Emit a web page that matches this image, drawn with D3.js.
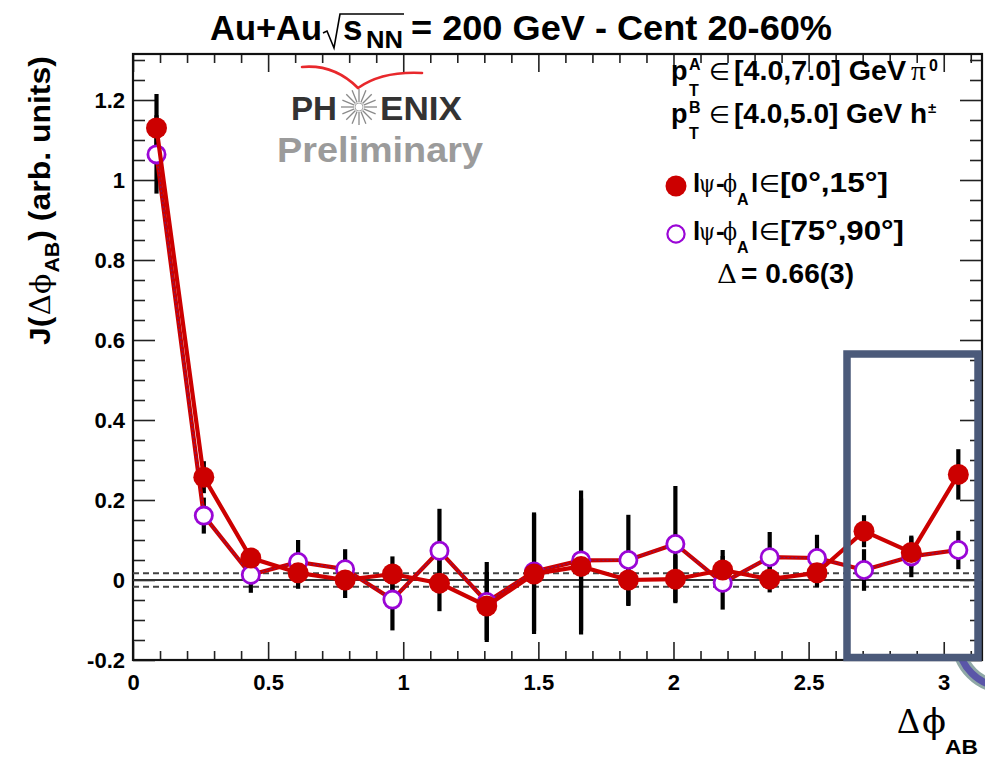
<!DOCTYPE html>
<html>
<head>
<meta charset="utf-8">
<script src="https://cdn.jsdelivr.net/npm/d3@7"></script>
<style>
  body { margin: 0; background: #fff; }
  svg { display: block; }
</style>
</head>
<body>
<svg id="chart" width="985" height="758"></svg>
<script>
// Δφ_AB bin centres (18 bins over [0, π])
const dphiCenters = [0.087, 0.262, 0.436, 0.611, 0.785, 0.960, 1.134, 1.309, 1.484,
                     1.658, 1.833, 2.007, 2.182, 2.356, 2.531, 2.705, 2.880, 3.054];
// |ψ-φ_A| ∈ [0°,15°]  (in-plane trigger)
const jInPlane   = [1.130, 0.257, 0.055, 0.018, 0.000, 0.015, -0.008, -0.065, 0.015,
                    0.034, 0.000, 0.002, 0.025, 0.002, 0.018, 0.122, 0.069, 0.264];
const errInPlane = [0.085, 0.040, 0.025, 0.040, 0.045, 0.044, 0.070, 0.085, 0.150,
                    0.170, 0.065, 0.060, 0.050, 0.033, 0.036, 0.040, 0.038, 0.063];
// |ψ-φ_A| ∈ [75°,90°] (out-of-plane trigger)
const jOutPlane   = [1.064, 0.161, 0.013, 0.045, 0.027, -0.049, 0.073, -0.055, 0.021,
                     0.049, 0.050, 0.090, -0.007, 0.057, 0.055, 0.025, 0.059, 0.075];
const errOutPlane = [0.098, 0.045, 0.045, 0.055, 0.050, 0.077, 0.105, 0.100, 0.148,
                     0.175, 0.113, 0.145, 0.067, 0.063, 0.058, 0.052, 0.052, 0.048];
// normalisation systematic band around zero
const zeroBand = [-0.017, 0.017];

const xTicks = [0, 0.5, 1, 1.5, 2, 2.5, 3];
const xTickLabels = ["0", "0.5", "1", "1.5", "2", "2.5", "3"];
const yTicks = [-0.2, 0, 0.2, 0.4, 0.6, 0.8, 1, 1.2];
const yTickLabels = ["-0.2", "0", "0.2", "0.4", "0.6", "0.8", "1", "1.2"];

const SANS = "'Liberation Sans', Arial, Helvetica, sans-serif";
const SERIF = "'Liberation Serif', 'Times New Roman', serif";
const GREEK = "'DejaVu Serif', 'Liberation Serif', serif";
const SYM = "'DejaVu Sans', sans-serif";
const PHI = "\u03d5";
const RED = "#cc0000";
const PURPLE = "#9a06d6";

const svg = d3.select("#chart");
const frame = { left: 133, right: 982, top: 54, bottom: 660 };

const x = d3.scaleLinear().domain([0, Math.PI]).range([frame.left, frame.right]);
const y = d3.scaleLinear().domain([-0.2, 1.315]).range([frame.bottom, frame.top]);

// ---------- axes (ticks inside the frame on all four sides) ----------
const xMinor = d3.range(0.1, 3.15, 0.1).filter(v => Math.abs(v * 2 - Math.round(v * 2)) > 1e-6);
const yMinor = d3.range(-0.15, 1.31, 0.05).filter(v => Math.abs(v * 5 - Math.round(v * 5)) > 1e-6);

function styleAxis(g) {
  g.select(".domain").remove();
  g.selectAll(".tick line").attr("stroke", "#222").attr("stroke-width", 1.6);
  g.selectAll(".tick text")
    .style("font-family", SANS).style("font-size", "22px").style("font-weight", "bold")
    .attr("fill", "#000");
}

svg.append("g").attr("transform", `translate(0,${frame.bottom})`)
  .call(d3.axisBottom(x).tickValues(xTicks).tickSize(-18).tickPadding(14)
    .tickFormat((d, i) => xTickLabels[i]))
  .call(styleAxis);
svg.append("g").attr("transform", `translate(0,${frame.bottom})`)
  .call(d3.axisBottom(x).tickValues(xMinor).tickSize(-9).tickFormat(""))
  .call(styleAxis);
svg.append("g").attr("transform", `translate(0,${frame.top})`)
  .call(d3.axisTop(x).tickValues(xTicks).tickSize(-18).tickFormat(""))
  .call(styleAxis);
svg.append("g").attr("transform", `translate(0,${frame.top})`)
  .call(d3.axisTop(x).tickValues(xMinor).tickSize(-9).tickFormat(""))
  .call(styleAxis);

svg.append("g").attr("transform", `translate(${frame.left},0)`)
  .call(d3.axisLeft(y).tickValues(yTicks).tickSize(-22).tickPadding(8)
    .tickFormat((d, i) => yTickLabels[i]))
  .call(styleAxis);
svg.append("g").attr("transform", `translate(${frame.left},0)`)
  .call(d3.axisLeft(y).tickValues(yMinor).tickSize(-12).tickFormat(""))
  .call(styleAxis);
svg.append("g").attr("transform", `translate(${frame.right},0)`)
  .call(d3.axisRight(y).tickValues(yTicks).tickSize(-22).tickFormat(""))
  .call(styleAxis);
svg.append("g").attr("transform", `translate(${frame.right},0)`)
  .call(d3.axisRight(y).tickValues(yMinor).tickSize(-12).tickFormat(""))
  .call(styleAxis);

svg.append("rect")
  .attr("x", frame.left).attr("y", frame.top)
  .attr("width", frame.right - frame.left).attr("height", frame.bottom - frame.top)
  .attr("fill", "none").attr("stroke", "#111").attr("stroke-width", 2.2);

// ---------- zero line and systematic band ----------
svg.append("line")
  .attr("x1", frame.left).attr("x2", frame.right)
  .attr("y1", y(0)).attr("y2", y(0))
  .attr("stroke", "#333").attr("stroke-width", 2);
svg.selectAll("line.band").data(zeroBand).enter().append("line")
  .attr("class", "band")
  .attr("x1", frame.left).attr("x2", frame.right)
  .attr("y1", d => y(d)).attr("y2", d => y(d))
  .attr("stroke", "#444").attr("stroke-width", 2).attr("stroke-dasharray", "6,4");

// ---------- PHENIX Preliminary logo ----------
const logo = svg.append("g");
logo.append("path")
  .attr("d", "M302,67 Q334,64 358,88 M358,88 Q382,71 422,73")
  .attr("fill", "none").attr("stroke", "#e8282c").attr("stroke-width", 2.6)
  .attr("stroke-linecap", "round");
logo.append("text").attr("x", 291).attr("y", 120)
  .attr("textLength", 46).attr("lengthAdjust", "spacingAndGlyphs")
  .style("font-family", SANS).style("font-size", "33px").style("font-weight", "bold")
  .attr("fill", "#333").text("PH");
logo.append("text").attr("x", 380).attr("y", 120)
  .attr("textLength", 82).attr("lengthAdjust", "spacingAndGlyphs")
  .style("font-family", SANS).style("font-size", "33px").style("font-weight", "bold")
  .attr("fill", "#333").text("ENIX");
const star = logo.append("g").attr("transform", "translate(359,107)");
d3.range(16).forEach(k => {
  const a = k * Math.PI / 8;
  star.append("line")
    .attr("x1", 5 * Math.cos(a)).attr("y1", 5 * Math.sin(a))
    .attr("x2", 18 * Math.cos(a)).attr("y2", 18 * Math.sin(a))
    .attr("stroke", "#8a8a8a").attr("stroke-width", 1.3);
});
star.append("circle").attr("r", 4).attr("fill", "none").attr("stroke", "#aaa").attr("stroke-width", 1);
logo.append("text").attr("x", 277).attr("y", 162)
  .attr("textLength", 206).attr("lengthAdjust", "spacingAndGlyphs")
  .style("font-family", SANS).style("font-size", "35px").style("font-weight", "bold")
  .attr("fill", "#9b9b9b").text("Preliminary");

// ---------- data: error bars, connecting lines, markers ----------
const series = [
  { vals: jOutPlane, errs: errOutPlane, open: true },
  { vals: jInPlane, errs: errInPlane, open: false }
];

const plot = svg.append("g");
series.forEach(s => {
  plot.append("g").selectAll("line").data(s.vals).enter().append("line")
    .attr("x1", (d, i) => x(dphiCenters[i])).attr("x2", (d, i) => x(dphiCenters[i]))
    .attr("y1", (d, i) => y(d - s.errs[i])).attr("y2", (d, i) => y(d + s.errs[i]))
    .attr("stroke", "#000").attr("stroke-width", 4.2);
});

const line = d3.line().x((d, i) => x(dphiCenters[i])).y(d => y(d));
series.forEach(s => {
  plot.append("path").datum(s.vals).attr("d", line)
    .attr("fill", "none").attr("stroke", RED).attr("stroke-width", 4.2)
    .attr("stroke-linejoin", "round");
  if (s.open) {
    plot.append("path").datum(s.vals).attr("d", line)
      .attr("fill", "none").attr("stroke", "#3a2fc0").attr("stroke-width", 1.1)
      .attr("stroke-opacity", 0.55).attr("stroke-dasharray", "2,2");
  }
  plot.append("g").selectAll("circle").data(s.vals).enter().append("circle")
    .attr("cx", (d, i) => x(dphiCenters[i])).attr("cy", d => y(d))
    .attr("r", s.open ? 8.6 : 10.5)
    .attr("fill", s.open ? "#fff" : RED)
    .attr("stroke", s.open ? PURPLE : "none")
    .attr("stroke-width", s.open ? 2.8 : 0);
});

// ---------- title ----------
const title = svg.append("g");
const bold = (sel, size) => sel.style("font-family", SANS).style("font-size", size + "px")
  .style("font-weight", "bold").attr("fill", "#000");
bold(title.append("text").attr("x", 210).attr("y", 40)
  .attr("textLength", 112).attr("lengthAdjust", "spacingAndGlyphs"), 35).text("Au+Au");
title.append("path").attr("d", "M323,33 L327,31 L334,48 L340,14 L404,14")
  .attr("fill", "none").attr("stroke", "#000").attr("stroke-width", 1.6);
bold(title.append("text").attr("x", 343).attr("y", 40), 35).text("s");
bold(title.append("text").attr("x", 366).attr("y", 48)
  .attr("textLength", 37).attr("lengthAdjust", "spacingAndGlyphs"), 23).text("NN");
bold(title.append("text").attr("x", 411).attr("y", 40)
  .attr("textLength", 421).attr("lengthAdjust", "spacingAndGlyphs"), 35).text("= 200 GeV - Cent 20-60%");

// ---------- legend / annotation block ----------
const leg = svg.append("g");
function piece(t, px, py, size, opts = {}) {
  const el = leg.append("text").attr("x", px).attr("y", py)
    .style("font-family", opts.family || SANS).style("font-size", size + "px")
    .style("font-weight", opts.weight || "bold").attr("fill", "#000").text(t);
  if (opts.len) el.attr("textLength", opts.len).attr("lengthAdjust", "spacingAndGlyphs");
  return el;
}
// p_T^A line
piece("p", 671, 80, 27);
piece("A", 689, 70, 16);
piece("T", 689, 96, 16);
piece("\u2208", 709, 80, 24, { family: SYM, weight: "normal" });
piece("[4.0,7.0] GeV", 734, 80, 27, { len: 172 });
piece("\u03c0", 911, 80, 27, { family: SERIF, weight: "normal", len: 15 });
piece("0", 929, 71, 16);
// p_T^B line
piece("p", 671, 123, 27);
piece("B", 689, 113, 16);
piece("T", 689, 139, 16);
piece("\u2208", 709, 123, 24, { family: SYM, weight: "normal" });
piece("[4.0,5.0] GeV h", 734, 123, 27, { len: 193 });
piece("\u00b1", 928, 113, 15);

// series entries
const entries = [
  { label: "[0\u00b0,15\u00b0]", len: 108, base: 192, my: 186, open: false },
  { label: "[75\u00b0,90\u00b0]", len: 124, base: 240, my: 234, open: true }
];
entries.forEach(e => {
  leg.append("circle").attr("cx", 676).attr("cy", e.my)
    .attr("r", e.open ? 8.6 : 10.5)
    .attr("fill", e.open ? "#fff" : RED)
    .attr("stroke", e.open ? PURPLE : "none").attr("stroke-width", e.open ? 2.2 : 0);
  piece("l", 693, e.base, 26);
  piece("\u03c8", 699, e.base, 24, { family: GREEK, weight: "normal", len: 16 });
  piece("-", 716, e.base, 26);
  piece(PHI, 723, e.base, 24, { family: GREEK, weight: "normal", len: 14 });
  piece("A", 737, e.base + 13, 16);
  piece("l", 751, e.base, 26);
  piece("\u2208", 759, e.base, 24, { family: SYM, weight: "normal" });
  piece(e.label, 780, e.base, 27, { len: e.len });
});
piece("\u0394", 717, 283, 26, { family: GREEK, weight: "normal", len: 20 });
piece("= 0.66(3)", 741, 283, 27, { len: 113 });

// ---------- axis titles ----------
svg.append("text").attr("x", 897).attr("y", 733)
  .attr("textLength", 23).attr("lengthAdjust", "spacingAndGlyphs")
  .style("font-family", SERIF).style("font-size", "36px").attr("fill", "#000").text("\u0394");
svg.append("text").attr("x", 922).attr("y", 733)
  .attr("textLength", 24).attr("lengthAdjust", "spacingAndGlyphs")
  .style("font-family", GREEK).style("font-size", "34px").attr("fill", "#000").text(PHI);
svg.append("text").attr("x", 945).attr("y", 754)
  .attr("textLength", 33).attr("lengthAdjust", "spacingAndGlyphs")
  .style("font-family", SANS).style("font-size", "21px").style("font-weight", "bold")
  .attr("fill", "#000").text("AB");

// y title laid out piece by piece, then fitted along the axis
const yTitle = svg.append("g");
const yParts = [
  { t: "J(", size: 30, family: SANS, weight: "bold", dy: 0 },
  { t: "\u0394" + PHI, size: 28, family: GREEK, weight: "normal", dy: 0 },
  { t: "AB", size: 20, family: SANS, weight: "bold", dy: 9 },
  { t: ") (arb. units)", size: 30, family: SANS, weight: "bold", dy: 0 }
];
let cursor = 0;
yParts.forEach(p => {
  const t = yTitle.append("text").attr("x", cursor).attr("y", p.dy)
    .style("font-family", p.family).style("font-size", p.size + "px")
    .style("font-weight", p.weight).attr("fill", "#000").text(p.t);
  cursor += t.node().getComputedTextLength() + 1;
});
const ySx = 290 / cursor;
yTitle.attr("transform", `translate(50,345) rotate(-90) scale(${ySx},1)`);

// ---------- highlight box and corner mark ----------
const ringArc = d3.arc().innerRadius(42).outerRadius(52)
  .startAngle(Math.PI * 0.5).endAngle(Math.PI * 1.5);
svg.append("defs").append("clipPath").attr("id", "belowFrame")
  .append("rect").attr("x", 900).attr("y", 661).attr("width", 90).attr("height", 100);
svg.append("g").attr("clip-path", "url(#belowFrame)")
  .append("path").attr("d", ringArc())
  .attr("transform", "translate(1005,640)")
  .attr("fill", "#5a56a8").attr("stroke", "#8fa8a6").attr("stroke-width", 3);

svg.append("rect")
  .attr("x", 847).attr("y", 354).attr("width", 131).attr("height", 303.5)
  .attr("fill", "none").attr("stroke", "#4b5a7a").attr("stroke-width", 7.5);
</script>
</body>
</html>
